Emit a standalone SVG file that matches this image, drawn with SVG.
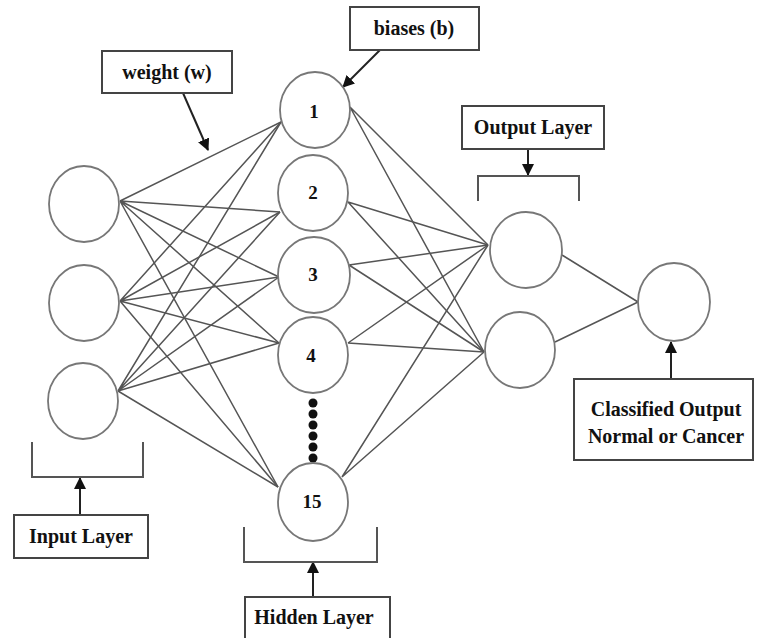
<svg xmlns="http://www.w3.org/2000/svg" width="757" height="638" viewBox="0 0 757 638">
<defs>
<marker id="ah" markerWidth="12" markerHeight="12" refX="11" refY="6" orient="auto" markerUnits="userSpaceOnUse"><path d="M0,0 L12,6 L0,12 z" fill="#111"/></marker>
<style>
.n{fill:#fff;stroke:#777;stroke-width:1.8}
.e{stroke:#555;stroke-width:1.5;fill:none}
.b{fill:#fff;stroke:#444;stroke-width:2}
.br{fill:none;stroke:#555;stroke-width:2}
.a{stroke:#222;stroke-width:2;fill:none;marker-end:url(#ah)}
.t{font-family:"Liberation Serif","Times New Roman",serif;font-weight:bold;font-size:20px;fill:#111;text-anchor:middle}
.d{font-family:"Liberation Serif","Times New Roman",serif;font-weight:bold;font-size:19px;fill:#111;text-anchor:middle}
</style>
</defs>
<rect width="757" height="638" fill="#fff"/>
<g id="connectors">
<path class="e" d="M120,201 L281,122 M120,201 L280,212 M120,201 L279,277 M120,201 L279,343 M120,201 L278,487"/>
<path class="e" d="M120,301 L281,122 M120,301 L280,212 M120,301 L279,277 M120,301 L279,343 M120,301 L278,487"/>
<path class="e" d="M118,391 L281,122 M118,391 L280,212 M118,391 L279,277 M118,391 L279,343 M118,391 L278,487"/>
<path class="e" d="M350,107 L488,245 M350,107 L484,352"/>
<path class="e" d="M348,202 L488,245 M348,202 L484,352"/>
<path class="e" d="M349,265 L488,245 M349,265 L484,352"/>
<path class="e" d="M348,343 L488,245 M348,343 L484,352"/>
<path class="e" d="M342,477 L488,245 M342,477 L484,352"/>
<path class="e" d="M562,255 L638,302 M555,342 L638,302"/>
<line class="a" x1="183" y1="93" x2="208" y2="150"/>
<line class="a" x1="380" y1="50" x2="343" y2="87"/>
<line class="a" x1="528" y1="149" x2="528" y2="175"/>
<line class="a" x1="80" y1="515" x2="80" y2="478"/>
<line class="a" x1="313" y1="597" x2="313" y2="562"/>
<line class="a" x1="671" y1="379" x2="671" y2="342"/>
<path class="br" d="M32,442 L32,477 L143,477 L143,442"/>
<path class="br" d="M244,527 L244,562 L377,562 L377,527"/>
<path class="br" d="M478,201 L478,176 L579,176 L579,201"/>
</g>
<g id="input1"><ellipse class="n" cx="84" cy="204" rx="35" ry="38"/></g>
<g id="input2"><ellipse class="n" cx="84" cy="303" rx="35" ry="38"/></g>
<g id="input3"><ellipse class="n" cx="83" cy="401" rx="35" ry="38"/></g>
<g id="hidden1"><ellipse class="n" cx="315" cy="110" rx="35" ry="38"/><text class="d" x="314" y="118">1</text></g>
<g id="hidden2"><ellipse class="n" cx="313" cy="193" rx="35" ry="38"/><text class="d" x="313" y="199">2</text></g>
<g id="hidden3"><ellipse class="n" cx="314" cy="275" rx="36" ry="38"/><text class="d" x="313" y="281">3</text></g>
<g id="hidden4"><ellipse class="n" cx="313" cy="355" rx="35" ry="38"/><text class="d" x="311" y="362">4</text></g>
<g id="dots" fill="#111"><circle cx="313" cy="403" r="4.5"/><circle cx="313" cy="414" r="4.5"/><circle cx="313" cy="425" r="4.5"/><circle cx="313" cy="436" r="4.5"/><circle cx="313" cy="447" r="4.5"/><circle cx="313" cy="458" r="4.5"/></g>
<g id="hidden15"><ellipse class="n" cx="313" cy="502" rx="35" ry="39"/><text class="d" x="312" y="508">15</text></g>
<g id="output1"><ellipse class="n" cx="526" cy="250" rx="36" ry="38"/></g>
<g id="output2"><ellipse class="n" cx="520" cy="350" rx="35" ry="38"/></g>
<g id="final"><ellipse class="n" cx="674" cy="302" rx="36" ry="39"/></g>
<g id="label-weight"><rect class="b" x="102" y="51" width="130" height="42"/><text class="t" x="167" y="79">weight (w)</text></g>
<g id="label-biases"><rect class="b" x="350" y="7" width="129" height="43"/><text class="t" x="414" y="35">biases (b)</text></g>
<g id="label-output"><rect class="b" x="462" y="106" width="142" height="43"/><text class="t" x="533" y="134">Output Layer</text></g>
<g id="label-input"><rect class="b" x="14" y="515" width="134" height="43"/><text class="t" x="81" y="543">Input Layer</text></g>
<g id="label-hidden"><rect class="b" x="245" y="597" width="145" height="45"/><text class="t" x="314" y="624">Hidden Layer</text></g>
<g id="label-classified"><rect class="b" x="574" y="379" width="179" height="81"/><text class="t" x="666" y="416">Classified Output</text><text class="t" x="666" y="443">Normal or Cancer</text></g>
</svg>
